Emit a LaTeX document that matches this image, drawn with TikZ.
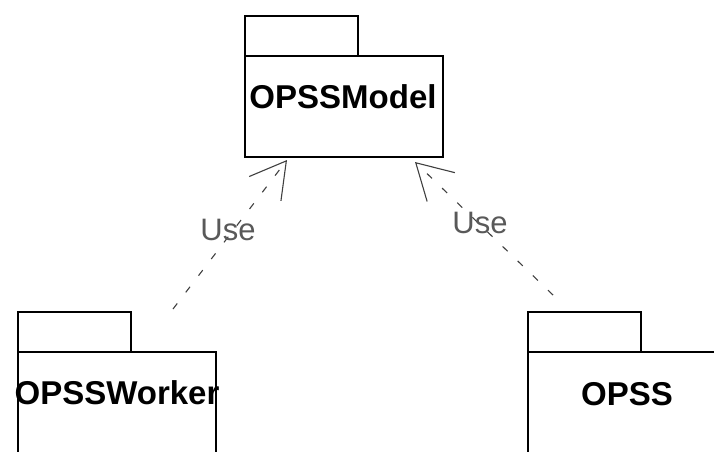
\documentclass[tikz,border=0pt]{standalone}
\usepackage{fontspec}
\setmainfont{Liberation Sans}
\usetikzlibrary{arrows.meta,calc}
\begin{document}
\begin{tikzpicture}[x=1pt,y=-1pt,
  pkgbody/.style={draw=black, line width=2pt, minimum width=198pt, minimum height=101pt, inner sep=0pt, outer sep=0pt, anchor=north west},
  pkgtab/.style={draw=black, line width=2pt, minimum width=113pt, minimum height=40pt, inner sep=0pt, outer sep=0pt, anchor=south west},
  pkgname/.style={font=\fontsize{33}{36}\selectfont\bfseries, text=black, inner sep=0pt},
  usedep/.style={draw=black!75, line width=1.1pt, dash pattern=on 7pt off 14pt, -{Straight Barb[length=35pt,width=40pt]}},
  uselabel/.style={font=\fontsize{31}{34}\selectfont, text=black!65, inner sep=1pt}
]
\useasboundingbox (0,0) rectangle (714,451);

% OPSSModel package
\node[pkgbody] (model) at (245,56) {};
\node[pkgtab] (modeltab) at (model.north west) {};
\node[pkgname] (modelname) at (343,97) {OPSSModel};

% OPSSWorker package (runs past the lower edge)
\node[pkgbody, minimum height=130pt] (worker) at (18,352) {};
\node[pkgtab] (workertab) at (worker.north west) {};
\node[pkgname] (workername) at (117,393) {OPSSWorker};

% OPSS package (runs past the right and lower edges)
\node[pkgbody, minimum height=130pt] (opss) at (528,352) {};
\node[pkgtab] (opsstab) at (opss.north west) {};
\node[pkgname] (opssname) at (627,394) {OPSS};

% dependency end points
\coordinate (workerdep) at ($(workertab.north east)+(42,-3)$);
\coordinate (opssdep) at ($(opsstab.north west)+(25,-17)$);
\coordinate (modelin1) at ($(model.south west)+(42,3)$);
\coordinate (modelin2) at ($(model.south west)+(170,5)$);

% <<use>> dependencies
\draw[usedep] (workerdep) -- (modelin1);
\draw[usedep] (opssdep) -- (modelin2);

\node[uselabel] (use1) at (228,230) {Use};
\node[uselabel] (use2) at (480,223) {Use};
\end{tikzpicture}
\end{document}
